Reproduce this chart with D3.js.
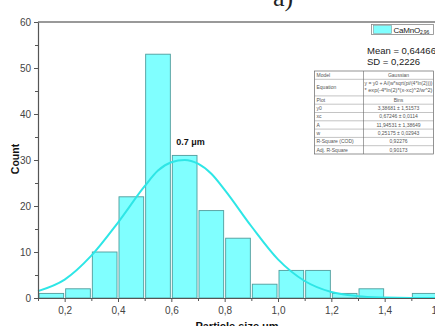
<!DOCTYPE html>
<html>
<head>
<meta charset="utf-8">
<script src="https://cdn.jsdelivr.net/npm/d3@7"></script>
<style>
  html, body { margin: 0; padding: 0; background: #fff; overflow: hidden; }
  svg { display: block; font-family: "Liberation Sans", Arial, sans-serif; }
</style>
</head>
<body>
<div id="chart"></div>
<script>
"use strict";

// histogram bins (lower edge, um) and counts
var binStarts = [0.1, 0.2, 0.3, 0.4, 0.5, 0.6, 0.7, 0.8, 0.9, 1.0, 1.1, 1.2, 1.3, 1.4, 1.5];
var binWidth = 0.1;
var counts = [1, 2, 10, 22, 53, 31, 19, 13, 3, 6, 6, 1, 2, 0, 1];

// gaussian fit curve
var curveX = [0.1, 0.2, 0.3, 0.4, 0.5, 0.55, 0.6, 0.65, 0.7, 0.75, 0.8, 0.9, 1.0, 1.1, 1.2, 1.3, 1.4, 1.5, 1.6];
var curveY = [1.5, 4.0, 9.2, 16.4, 24.3, 27.7, 29.5, 30.0, 29.2, 27.0, 23.5, 15.6, 8.4, 3.7, 1.3, 0.4, 0.1, 0.0, 0.0];

var xTicks = [0.2, 0.4, 0.6, 0.8, 1.0, 1.2, 1.4, 1.6];
var xMinor = [0.1, 0.3, 0.5, 0.7, 0.9, 1.1, 1.3, 1.5];
var yTicks = [0, 10, 20, 30, 40, 50, 60];
var yMinor = [5, 15, 25, 35, 45, 55];

var legendLabel = "CaMnO";
var legendSub = "2,96";
var statLines = ["Mean = 0,64466", "SD = 0,2226"];
var peakLabel = "0.7 \u03bcm";

var fitTable = [
    ["Model", "Gaussian"],
    ["Equation", "y = y0 + A/(w*sqrt(pi/(4*ln(2))))|* exp(-4*ln(2)*(x-xc)^2/w^2)"],
    ["Plot", "Bins"],
    ["y0", "3,38681 \u00b1 1,51573"],
    ["xc", "0,67246 \u00b1 0,0114"],
    ["A", "11,94531 \u00b1 1,38649"],
    ["w", "0,25175 \u00b1 0,02943"],
    ["R-Square (COD)", "0,92276"],
    ["Adj. R-Square", "0,90173"]
];

var W = 435, H = 326;
var margin = { left: 38, top: 22, right: -3, bottom: 28 };

var svg = d3.select("#chart").append("svg")
    .attr("width", W)
    .attr("height", H);

var x = d3.scaleLinear().domain([0.1, 1.6]).range([margin.left, W - margin.right]);
var y = d3.scaleLinear().domain([0, 60]).range([H - margin.bottom, margin.top]);

var fmt = function (d) { return d3.format(".1f")(d).replace(".", ","); };

var cyanFill = "#80ffff",
    barStroke = "#4f9c9c",
    curveColor = "#2ee6e6",
    axisColor = "#555",
    tickText = "#444";

// panel letter, cut at the top edge
svg.append("text")
    .attr("x", 273)
    .attr("y", 6)
    .attr("font-family", "'Liberation Serif', 'DejaVu Serif', serif")
    .attr("font-size", 26)
    .attr("fill", "#222")
    .text("a)");

// bars
svg.selectAll("rect.bar")
    .data(counts)
    .enter()
    .append("rect")
    .attr("class", "bar")
    .attr("x", function (d, i) { return x(binStarts[i]) + 1; })
    .attr("width", function (d, i) { return x(binStarts[i] + binWidth) - x(binStarts[i]) - 2; })
    .attr("y", function (d) { return y(d); })
    .attr("height", function (d) { return y(0) - y(d); })
    .attr("fill", cyanFill)
    .attr("stroke", function (d) { return d > 0 ? barStroke : "none"; })
    .attr("stroke-width", 0.9);

// fit curve
var line = d3.line()
    .x(function (d) { return x(d[0]); })
    .y(function (d) { return y(d[1]); })
    .curve(d3.curveMonotoneX);

svg.append("path")
    .datum(d3.zip(curveX, curveY))
    .attr("d", line)
    .attr("fill", "none")
    .attr("stroke", curveColor)
    .attr("stroke-width", 2);

// frame top
svg.append("line")
    .attr("x1", x(0.1)).attr("x2", W)
    .attr("y1", y(60)).attr("y2", y(60))
    .attr("stroke", "#777")
    .attr("stroke-width", 1.5);

// x axis
var xAxis = svg.append("g")
    .attr("transform", "translate(0," + y(0) + ")")
    .call(d3.axisBottom(x).tickValues(xTicks).tickFormat(fmt).tickSize(4).tickSizeOuter(0));
svg.append("g")
    .attr("transform", "translate(0," + y(0) + ")")
    .call(d3.axisBottom(x).tickValues(xMinor).tickFormat("").tickSize(3).tickSizeOuter(0))
    .select(".domain").remove();

// y axis
var yAxis = svg.append("g")
    .attr("transform", "translate(" + x(0.1) + ",0)")
    .call(d3.axisLeft(y).tickValues(yTicks).tickSize(4).tickSizeOuter(0));
svg.append("g")
    .attr("transform", "translate(" + x(0.1) + ",0)")
    .call(d3.axisLeft(y).tickValues(yMinor).tickFormat("").tickSize(3).tickSizeOuter(0))
    .select(".domain").remove();

svg.selectAll(".domain").attr("stroke", axisColor).attr("stroke-width", 1.2);
svg.selectAll(".tick line").attr("stroke", axisColor);
svg.selectAll(".tick text")
    .attr("fill", tickText)
    .attr("font-size", 10)
    .attr("font-family", "'Liberation Sans', Arial, sans-serif");
xAxis.selectAll(".tick text").attr("dy", "0.9em");

// axis titles
svg.append("text")
    .attr("transform", "translate(19," + 159 + ") rotate(-90)")
    .attr("text-anchor", "middle")
    .attr("font-size", 10.5)
    .attr("font-weight", "bold")
    .attr("fill", "#111")
    .text("Count");

svg.append("text")
    .attr("x", 237)
    .attr("y", 330)
    .attr("text-anchor", "middle")
    .attr("font-size", 11)
    .attr("font-weight", "bold")
    .attr("fill", "#111")
    .text("Particle size \u03bcm");

// peak annotation
svg.append("text")
    .attr("x", x(0.6) + 5)
    .attr("y", 145)
    .attr("font-size", 9)
    .attr("font-weight", "bold")
    .attr("fill", "#111")
    .text(peakLabel);

// legend
var leg = svg.append("g");
leg.append("rect")
    .attr("x", 371.5).attr("y", 24.5)
    .attr("width", 62).attr("height", 10)
    .attr("fill", "#fff")
    .attr("stroke", "#888")
    .attr("stroke-width", 0.8);
leg.append("rect")
    .attr("x", 373.5).attr("y", 25.5)
    .attr("width", 18).attr("height", 8)
    .attr("fill", cyanFill)
    .attr("stroke", "#7a9a9a")
    .attr("stroke-width", 0.6);
var legText = leg.append("text")
    .attr("x", 393.5)
    .attr("y", 32.5)
    .attr("font-size", 8)
    .attr("letter-spacing", -0.2)
    .attr("fill", "#222");
legText.append("tspan").text(legendLabel);
legText.append("tspan").attr("font-size", 5).attr("dy", 1.5).text(legendSub);

svg.selectAll("text.stat")
    .data(statLines)
    .enter()
    .append("text")
    .attr("class", "stat")
    .attr("x", 367)
    .attr("y", function (d, i) { return 54 + i * 11; })
    .attr("font-size", 9.5)
    .attr("fill", "#222")
    .text(function (d) { return d; });

// fit results table
var tLeft = 314.5, tMid = 363.5, tRight = 433.5, tTop = 71, rowH = 8.3;
var rowSpans = fitTable.map(function (r) { return r[0] === "Equation" ? 2 : 1; });
var rowY = [tTop];
rowSpans.forEach(function (s, i) { rowY.push(rowY[i] + s * rowH); });

var tbl = svg.append("g").attr("font-size", 5).attr("fill", "#555");
tbl.append("rect")
    .attr("x", tLeft).attr("y", tTop)
    .attr("width", tRight - tLeft).attr("height", rowY[rowY.length - 1] - tTop)
    .attr("fill", "#fff")
    .attr("stroke", "#666")
    .attr("stroke-width", 0.7);
tbl.selectAll("line.row")
    .data(rowY.slice(1, -1))
    .enter()
    .append("line")
    .attr("x1", tLeft).attr("x2", tRight)
    .attr("y1", function (d) { return d; }).attr("y2", function (d) { return d; })
    .attr("stroke", "#888").attr("stroke-width", 0.5);
tbl.append("line")
    .attr("x1", tMid).attr("x2", tMid)
    .attr("y1", tTop).attr("y2", rowY[rowY.length - 1])
    .attr("stroke", "#666").attr("stroke-width", 0.6);

fitTable.forEach(function (r, i) {
    var y0 = rowY[i], y1 = rowY[i + 1];
    tbl.append("text")
        .attr("x", tLeft + 2)
        .attr("y", (y0 + y1) / 2 + 1.8)
        .text(r[0]);
    var parts = r[1].split("|");
    parts.forEach(function (p, j) {
        tbl.append("text")
            .attr("x", (tMid + tRight) / 2)
            .attr("y", y0 + rowH / 2 + 1.8 + j * rowH * 0.8)
            .attr("text-anchor", "middle")
            .attr("textLength", parts.length > 1 ? tRight - tMid - 2 : null)
            .attr("lengthAdjust", "spacingAndGlyphs")
            .text(p);
    });
});
</script>
</body>
</html>
